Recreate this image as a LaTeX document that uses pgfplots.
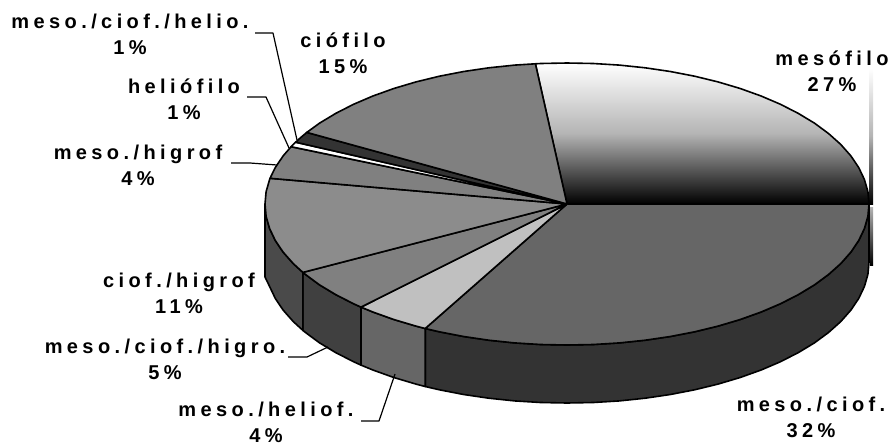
\documentclass[border=0pt]{standalone}
\usepackage{pgfplots}
\pgfplotsset{compat=1.18}
\usepackage{fontspec}
\newfontface\labfont[LetterSpace=22]{Liberation Sans Bold}
\definecolor{wallA}{HTML}{333333}
\definecolor{wallB}{HTML}{666666}
\definecolor{wallC}{HTML}{404040}
\definecolor{wallD}{HTML}{4A4A4A}
\definecolor{gradmid}{HTML}{B4B4B4}
\tikzset{lab/.style={font=\fontsize{20bp}{26bp}\labfont,align=center,anchor=center,text=black,inner sep=0pt}}
\begin{document}
\begin{tikzpicture}
\begin{axis}[
  width=893bp,height=442bp,scale only axis,
  xmin=0,xmax=893,ymin=0,ymax=442,y dir=reverse,
  hide axis,clip=false,
  every axis plot/.append style={line width=1.6bp,line join=round,mark=none},
]
\addplot[draw=none,fill=none] coordinates {(0,0)(893,0)(893,442)(0,442)};
% side walls
\addplot[draw=black,fill=wallA] coordinates {(425.2,328.5)(439.4,331.8)(463.7,336.5)(488.8,340.2)(514.6,342.9)(540.7,344.5)(567,345)(593.3,344.5)(619.4,342.9)(645.2,340.2)(670.3,336.5)(694.6,331.8)(718,326.1)(740.2,319.5)(761.1,312)(780.5,303.7)(798.3,294.6)(814.4,284.9)(828.5,274.5)(840.7,263.6)(850.8,252.2)(858.7,240.5)(864.4,228.5)(867.9,216.3)(869,204)(869,262)(867.9,274.3)(864.4,286.5)(858.7,298.5)(850.8,310.2)(840.7,321.6)(828.5,332.5)(814.4,342.9)(798.3,352.6)(780.5,361.7)(761.1,370)(740.2,377.5)(718,384.1)(694.6,389.8)(670.3,394.5)(645.2,398.2)(619.4,400.9)(593.3,402.5)(567,403)(540.7,402.5)(514.6,400.9)(488.8,398.2)(463.7,394.5)(439.4,389.8)(425.2,386.5)(425.2,328.5)};
\addplot[draw=black,fill=wallB] coordinates {(361,307.1)(372.9,312)(393.8,319.5)(416,326.1)(425.2,328.5)(425.2,386.5)(416,384.1)(393.8,377.5)(372.9,370)(361,365.1)(361,307.1)};
\addplot[draw=black,fill=wallC] coordinates {(302.9,272.4)(305.5,274.5)(319.6,284.9)(335.7,294.6)(353.5,303.7)(361,307.1)(361,365.1)(353.5,361.7)(335.7,352.6)(319.6,342.9)(305.5,332.5)(302.9,330.4)(302.9,272.4)};
\addplot[draw=black,fill=wallD] coordinates {(265,204)(266.1,216.3)(269.6,228.5)(275.3,240.5)(283.2,252.2)(293.3,263.6)(302.9,272.4)(302.9,330.4)(293.3,321.6)(283.2,310.2)(275.3,298.5)(269.6,286.5)(265,277)(265,204)};
% mesofilo band beyond the rim
\addplot[draw=none,top color=white,bottom color=black,middle color=gradmid] coordinates {(869,68)(873,68)(873,204)(869,204)(869,68)};
\addplot[draw=none,top color=gradmid,bottom color=black] coordinates {(870,207)(873,207)(873,265)(870,265)(870,207)};
% top face
\addplot[draw=black,top color=white,bottom color=black,middle color=gradmid] coordinates {(567,204)(869,204)(867.9,191.7)(864.4,179.5)(858.7,167.5)(850.8,155.8)(840.7,144.4)(828.5,133.5)(814.4,123.1)(798.3,113.4)(780.5,104.3)(761.1,96)(740.2,88.5)(718,81.9)(694.6,76.2)(670.3,71.5)(645.2,67.8)(619.4,65.1)(593.3,63.5)(567,63)(540.7,63.5)(535.4,63.8)(567,204)};
\addplot[draw=black,fill=wallB] coordinates {(567,204)(425.2,328.5)(439.4,331.8)(463.7,336.5)(488.8,340.2)(514.6,342.9)(540.7,344.5)(567,345)(593.3,344.5)(619.4,342.9)(645.2,340.2)(670.3,336.5)(694.6,331.8)(718,326.1)(740.2,319.5)(761.1,312)(780.5,303.7)(798.3,294.6)(814.4,284.9)(828.5,274.5)(840.7,263.6)(850.8,252.2)(858.7,240.5)(864.4,228.5)(867.9,216.3)(869,204)(567,204)};
\addplot[draw=black,fill={rgb,255:red,192;green,192;blue,192}] coordinates {(567,204)(361,307.1)(372.9,312)(393.8,319.5)(416,326.1)(425.2,328.5)(567,204)};
\addplot[draw=black,fill={rgb,255:red,128;green,128;blue,128}] coordinates {(567,204)(302.9,272.4)(305.5,274.5)(319.6,284.9)(335.7,294.6)(353.5,303.7)(361,307.1)(567,204)};
\addplot[draw=black,fill={rgb,255:red,140;green,140;blue,140}] coordinates {(567,204)(270,178.3)(269.6,179.5)(266.1,191.7)(265,204)(266.1,216.3)(269.6,228.5)(275.3,240.5)(283.2,252.2)(293.3,263.6)(302.9,272.4)(567,204)};
\addplot[draw=black,fill={rgb,255:red,128;green,128;blue,128}] coordinates {(567,204)(291.1,146.7)(283.2,155.8)(275.3,167.5)(270,178.3)(567,204)};
\addplot[draw=black,fill=white] coordinates {(567,204)(295.6,142.2)(291.1,146.7)(567,204)};
\addplot[draw=black,fill=wallA] coordinates {(567,204)(306.8,132.4)(300.4,137.8)(295.6,142.2)(567,204)};
\addplot[draw=black,fill={rgb,255:red,128;green,128;blue,128}] coordinates {(567,204)(535.4,63.8)(514.6,65.1)(488.8,67.8)(463.7,71.5)(439.4,76.2)(416,81.9)(393.8,88.5)(372.9,96)(353.5,104.3)(335.7,113.4)(319.6,123.1)(306.8,132.4)(567,204)};
% leaders
\addplot[draw=black,line width=1.2bp] coordinates {(255,33)(273,33)(297,140)};
\addplot[draw=black,line width=1.2bp] coordinates {(247,97)(266,97)(289,148)};
\addplot[draw=black,line width=1.2bp] coordinates {(231,163)(250,163)(277,165)};
\addplot[draw=black,line width=1.2bp] coordinates {(288,357)(307,357)(328,347)};
\addplot[draw=black,line width=1.2bp] coordinates {(361,421)(379,421)(395,374)};
% labels
\node[lab] at (axis cs:130,34.5) {meso./ciof./helio.\\1\%};
\node[lab] at (axis cs:343,53.5) {ciófilo\\15\%};
\node[lab] at (axis cs:184,99) {heliófilo\\1\%};
\node[lab] at (axis cs:138,165) {meso./higrof\\4\%};
\node[lab] at (axis cs:179,293) {ciof./higrof\\11\%};
\node[lab] at (axis cs:165,359) {meso./ciof./higro.\\5\%};
\node[lab] at (axis cs:266,422) {meso./heliof.\\4\%};
\node[lab] at (axis cs:832,71) {mesófilo\\27\%};
\node[lab] at (axis cs:811,417) {meso./ciof.\\32\%};
\end{axis}
\end{tikzpicture}
\end{document}
